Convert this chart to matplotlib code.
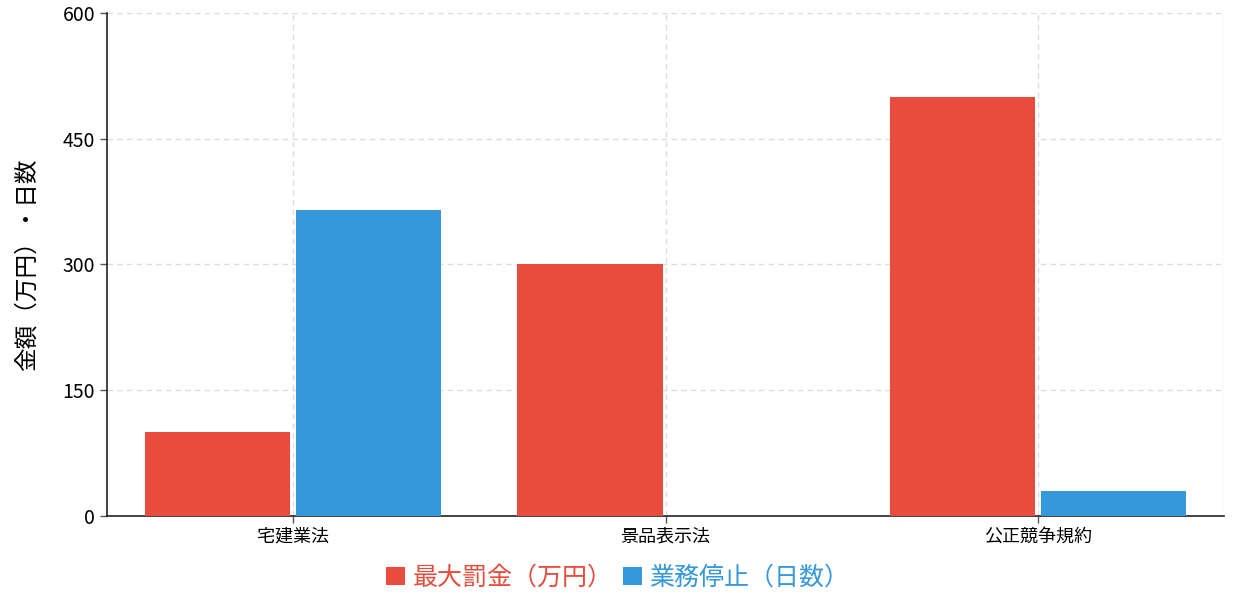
import numpy as np
import matplotlib
matplotlib.use("Agg")
from matplotlib import pyplot as plt

plt.rcParams['font.family'] = ['Noto Sans CJK JP', 'DejaVu Sans']

categories = ['宅建業法', '景品表示法', '公正競争規約']
fine_max = [100, 300, 500]        # 最大罰金（万円）
suspend_days = [365, 0, 30]       # 業務停止（日数）
series_names = ['最大罰金（万円）', '業務停止（日数）']
yticks = [0, 150, 300, 450, 600]

red = '#e74c3c'
blue = '#3498db'

fig = plt.figure(figsize=(12.43, 5.99), dpi=100)
ax = fig.add_axes([0.0861, 0.1386, 0.8986, 0.8397])

x = np.arange(len(categories))
w = 0.39
off = 0.203
b1 = ax.bar(x - off, fine_max, w, color=red, label=series_names[0], zorder=3)
b2 = ax.bar(x + off, suspend_days, w, color=blue, label=series_names[1], zorder=3)

ax.set_xlim(-0.5, len(categories) - 0.5)
ax.set_ylim(0, 600)
ax.set_yticks(yticks)
ax.set_xticks(x)
ax.set_xticklabels(categories, fontsize=13)
ax.tick_params(axis='y', labelsize=14, length=5, width=1, colors='#555555', labelcolor='black')
ax.tick_params(axis='x', length=5, width=1, colors='#555555', labelcolor='black')

grid_kw = dict(color='#dddddd', linestyle=(0, (4, 3)), linewidth=1, zorder=0)
for yv in yticks[1:]:
    ax.axhline(yv, **grid_kw)
for xv in list(x) + [len(categories) - 0.5]:
    ax.axvline(xv, **grid_kw)

for s in ['top', 'right']:
    ax.spines[s].set_visible(False)
for s in ['left', 'bottom']:
    ax.spines[s].set_color('#222222')
    ax.spines[s].set_linewidth(1.2)

ax.set_ylabel('金額（万円）・日数', fontsize=17, labelpad=17)

leg = fig.legend(handles=[b1, b2], loc='center', bbox_to_anchor=(0.497, 0.035), ncol=2,
                 frameon=False, fontsize=18, handlelength=0.75, handleheight=0.75,
                 handletextpad=0.3, columnspacing=0.42)
for t, c in zip(leg.get_texts(), [red, blue]):
    t.set_color(c)

fig.savefig('out.png', dpi=100)
